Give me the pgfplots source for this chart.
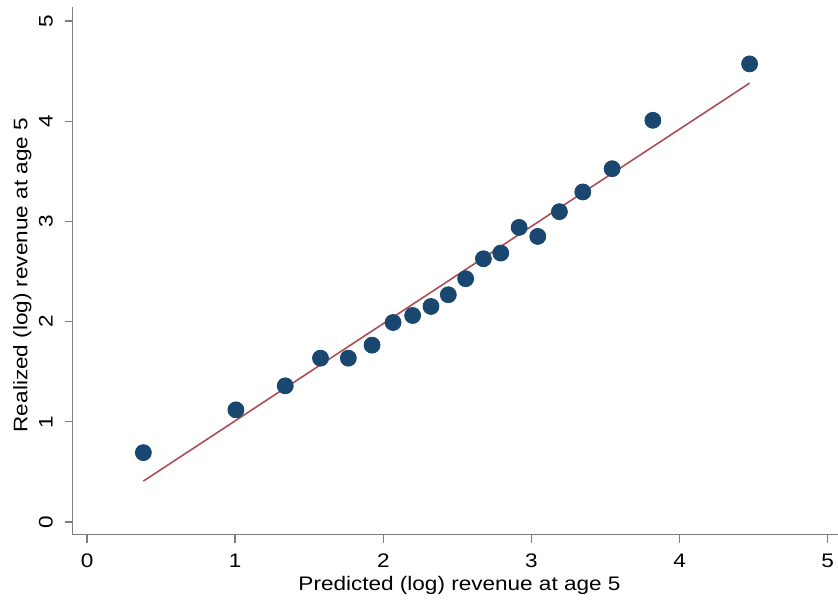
\documentclass[border=0pt]{standalone}
\usepackage{fontspec}
\setmainfont{Liberation Sans}[FakeStretch=1.15]
\usepackage{pgfplots}
\pgfplotsset{compat=1.18}

\definecolor{statanavy}{RGB}{26,71,111}
\definecolor{fitline}{RGB}{172,78,82}
\definecolor{axisgray}{RGB}{125,125,125}

\begin{document}
\fontsize{9.8}{11.8}\selectfont
\begin{tikzpicture}
\begin{axis}[
  scale only axis,
  width=382.65pt, height=263.85pt,
  at={(0,0)}, anchor=south west,
  xmin=-0.097, xmax=5.07,
  ymin=-0.127, ymax=5.14,
  axis lines=left,
  axis line style={-, draw=axisgray, line width=0.7pt},
  tick style={draw=axisgray, line width=0.7pt},
  tick align=outside,
  major tick length=4pt,
  xtick={0,1,2,3,4,5},
  ytick={0,1,2,3,4,5},
  /pgf/number format/assume math mode=true,
  yticklabel style={xshift=-6pt, rotate=90, anchor=base},
  xticklabel shift=2.2pt,
  xlabel={Predicted (log) revenue at age 5},
  ylabel={Realized (log) revenue at age 5},
  xlabel style={at={(axis description cs:0.5054,-0.1061)}, anchor=base},
  ylabel style={at={(axis description cs:-0.0592,0.492)}, anchor=base},
  clip=false,
]
\addplot[only marks, mark=*, mark size=4pt,
  mark options={fill=statanavy, draw=statanavy}] coordinates {
  (0.380,0.692) (1.005,1.119) (1.338,1.359) (1.576,1.635) (1.764,1.635)
  (1.924,1.765) (2.066,1.991) (2.198,2.061) (2.322,2.151) (2.439,2.268)
  (2.556,2.428) (2.676,2.627) (2.793,2.684) (2.917,2.940) (3.043,2.850)
  (3.189,3.097) (3.347,3.294) (3.545,3.526) (3.820,4.009) (4.473,4.572)
};
\addplot[fitline, line width=0.8pt, no marks] coordinates {
  (0.380,0.408) (4.473,4.380)
};
\end{axis}
\pgfresetboundingbox
\path (-36.35pt,-32.15pt) rectangle (382.65pt,267.35pt);
\end{tikzpicture}
\end{document}
